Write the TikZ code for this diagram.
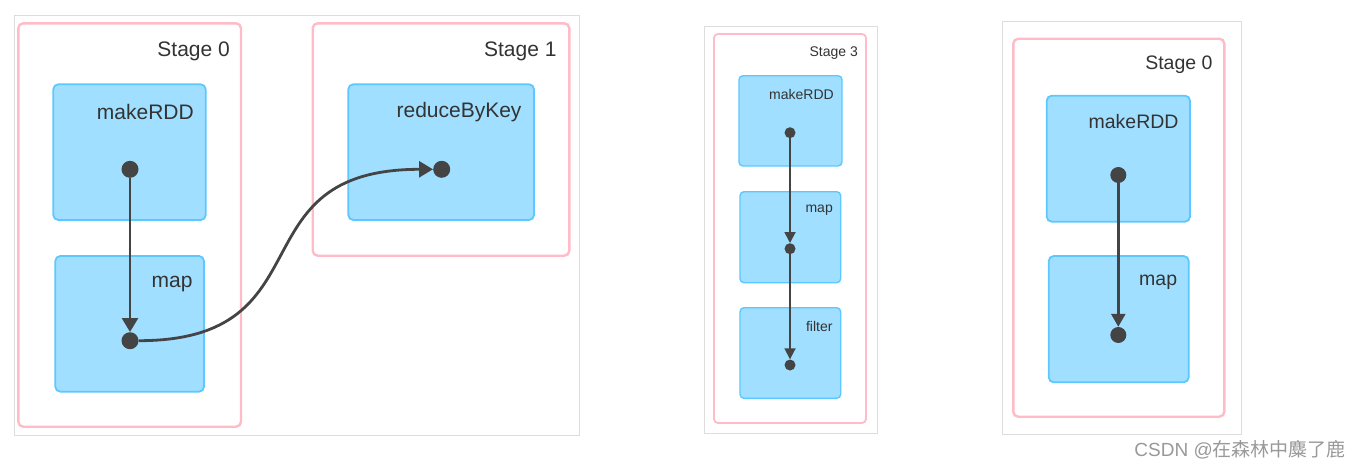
\documentclass[tikz,border=0pt]{standalone}
\usepackage{fontspec}
\setmainfont{Liberation Sans}
\newfontfamily\cjkfont{Noto Sans CJK SC}
\usetikzlibrary{arrows.meta,fit}
\definecolor{panelgray}{HTML}{DDDDDD}
\definecolor{stagepink}{HTML}{FFBCC8}
\definecolor{opfill}{HTML}{A0DFFF}
\definecolor{opdraw}{HTML}{5CC8FF}
\definecolor{dotcol}{HTML}{444444}
\definecolor{txtcol}{HTML}{333333}
\definecolor{wmcol}{HTML}{999999}
\tikzset{
  panel/.style={draw=panelgray, line width=1pt, inner sep=0pt, rectangle},
  stagebox/.style={draw=stagepink, line width=2.4pt, rounded corners=5pt, inner sep=0pt, rectangle, fill=white},
  opbox/.style={draw=opdraw, fill=opfill, line width=1.8pt, rounded corners=5pt, inner sep=0pt, rectangle},
  dotA/.style={circle, fill=dotcol, inner sep=0pt, minimum size=17pt},
  dotB/.style={circle, fill=dotcol, inner sep=0pt, minimum size=11pt},
  dotC/.style={circle, fill=dotcol, inner sep=0pt, minimum size=16pt},
  lblA/.style={text=txtcol, inner sep=0pt, anchor=east, font=\fontsize{21}{25}\selectfont},
  lblB/.style={text=txtcol, inner sep=0pt, anchor=east, font=\fontsize{14}{17}\selectfont},
  lblC/.style={text=txtcol, inner sep=0pt, anchor=east, font=\fontsize{19.5}{23}\selectfont},
  edgeA/.style={draw=dotcol, line width=2.8pt, -{Triangle[length=14pt,width=16pt]}},
  edgeB/.style={draw=dotcol, line width=1.8pt, -{Triangle[length=11pt,width=11pt]}},
  edgeC/.style={draw=dotcol, line width=2.6pt, -{Triangle[length=13pt,width=14pt]}},
}
\begin{document}
\begin{tikzpicture}[x=1pt,y=-1pt]
\useasboundingbox[fill=white] (0,0) rectangle (1362,469);

% ---------- Panel 1 ----------
\node[panel, fit={(14.3,15.5) (579.3,435.7)}] (p1) {};
\node[stagebox, fit={(18.3,23.3) (241,426.7)}] (s0) {};
\node[stagebox, fit={(312.7,23.3) (569.3,255.7)}] (s1) {};
\node[opbox, fit={(53.3,84.3) (205.7,220)}] (b1) {};
\node[opbox, fit={(55.3,256) (204,391.7)}] (b2) {};
\node[opbox, fit={(348.3,84.3) (534,220)}] (b3) {};
\node[lblA] (ts0) at (230,51) {Stage 0};
\node[lblA] (ts1) at (556.7,51) {Stage 1};
\node[lblA] (tb1) at (194,111.7) {makeRDD};
\node[lblA] (tb2) at (192.7,284) {map};
\node[lblA] (tb3) at (521.7,111.7) {reduceByKey};
\node[dotA] (d1) at (130,169.3) {};
\node[dotA] (d2) at (130,340.7) {};
\node[dotA] (d3) at (441.7,169.3) {};
\draw[edgeA] (d1) -- (d2);
\draw[edgeA] (d2) .. controls (330,340.7) and (233,169.3) .. (d3);

% ---------- Panel 2 ----------
\node[panel, fit={(704,26) (877,433)}] (p2) {};
\node[stagebox, line width=1.8pt, rounded corners=4pt, fit={(714,34) (866,423)}] (s3) {};
\node[opbox, line width=1.4pt, rounded corners=4pt, fit={(739,75.7) (842,166)}] (e1) {};
\node[opbox, line width=1.4pt, rounded corners=4pt, fit={(740,191.7) (840.7,282.7)}] (e2) {};
\node[opbox, line width=1.4pt, rounded corners=4pt, fit={(740,307.7) (840.7,398.3)}] (e3) {};
\node[lblB] (ts3) at (858,53) {Stage 3};
\node[lblB] (te1) at (834,94) {makeRDD};
\node[lblB] (te2) at (833,210) {map};
\node[lblB] (te3) at (832.7,326) {filter};
\node[dotB] (f1) at (790,132.7) {};
\node[dotB] (f2) at (790,248.7) {};
\node[dotB] (f3) at (790,365) {};
\draw[edgeB] (f1) -- (f2);
\draw[edgeB] (f2) -- (f3);

% ---------- Panel 3 ----------
\node[panel, fit={(1002.7,21) (1241.7,434)}] (p3) {};
\node[stagebox, fit={(1013.3,38.7) (1224.3,416.7)}] (s4) {};
\node[opbox, fit={(1046.7,95.7) (1190,221.7)}] (g1) {};
\node[opbox, fit={(1048.7,256) (1188.7,382.3)}] (g2) {};
\node[lblC] (ts4) at (1212.7,64.3) {Stage 0};
\node[lblC] (tg1) at (1178.7,121.7) {makeRDD};
\node[lblC] (tg2) at (1177.3,282.3) {map};
\node[dotC] (h1) at (1118.3,175) {};
\node[dotC] (h2) at (1118.3,335) {};
\draw[edgeC] (h1) -- (h2);

% ---------- Watermark ----------
\node[text=wmcol, inner sep=0pt, anchor=east, font=\fontsize{19}{22}\selectfont] (wm) at (1346,450) {CSDN @{\cjkfont 在森林中麋了鹿}};
\end{tikzpicture}
\end{document}
